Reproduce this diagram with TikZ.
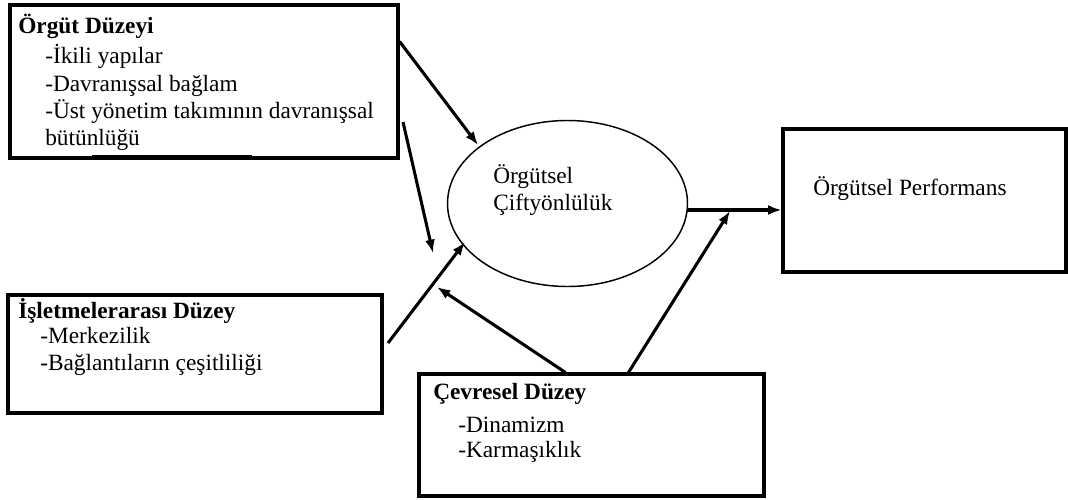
\documentclass[tikz,border=0pt]{standalone}
\usepackage{fontspec}
\setmainfont{Liberation Serif}
\usetikzlibrary{arrows.meta,calc,shapes.geometric}
\begin{document}
\begin{tikzpicture}[x=0.75pt,y=-0.75pt,
  box/.style={draw, line width=2.3pt, inner sep=0pt, rectangle},
  txt/.style={anchor=base west, inner sep=0pt, font=\fontsize{17.5}{20}\selectfont},
  head/.style={anchor=base west, inner sep=0pt, font=\fontsize{17.5}{20}\selectfont\bfseries},
  link/.style={line width=2.3pt, -{Latex[length=10pt,width=7.5pt]}}]
\useasboundingbox (0,0) rectangle (1068,500);

% frames
\node[box, minimum width=291pt, minimum height=114.75pt] (b1) at (204,81.5) {};
\node[box, minimum width=212.25pt, minimum height=107.25pt] (perf) at (924.5,200.5) {};
\node[box, minimum width=280.5pt, minimum height=88.5pt] (b2) at (195,354) {};
\node[box, minimum width=258.75pt, minimum height=91.5pt] (b3) at (591.5,435) {};
\node[draw, ellipse, line width=1.1pt, inner sep=0pt, minimum width=180pt, minimum height=124.5pt] (e) at (567.5,203.5) {};

% heavy stroke on the lower edge of the first frame
\draw[line width=3.75pt] (92,157.5) -- (252,157.5);

% texts of the first frame
\node[head] (t1h) at (18,33) {Örgüt Düzeyi};
\node[txt] (t1a) at (45,63) {-İkili yapılar};
\node[txt] (t1b) at (45,91) {-Davranışsal bağlam};
\node[txt] (t1c) at (45,118) {-Üst yönetim takımının davranışsal};
\node[txt] (t1d) at (45,145) {bütünlüğü};

% texts of the second frame
\node[head] (t2h) at (18,318) {İşletmelerarası Düzey};
\node[txt] (t2a) at (40,343) {-Merkezilik};
\node[txt] (t2b) at (40,370) {-Bağlantıların çeşitliliği};

% texts of the third frame
\node[head] (t3h) at (433,399) {Çevresel Düzey};
\node[txt] (t3a) at (458,432) {-Dinamizm};
\node[txt] (t3b) at (458,457) {-Karmaşıklık};

% ellipse and outcome texts
\node[txt] (te1) at (493,183) {Örgütsel};
\node[txt] (te2) at (493,210) {Çiftyönlülük};
\node[txt] (tp) at (813,195) {Örgütsel Performans};

% free ends of the connectors
\coordinate (a1s) at ($(b1.north east)+(0,38)$);
\coordinate (a1e) at (478,145);
\coordinate (a2s) at (403,122);
\coordinate (a2e) at (433,253);
\coordinate (a3s) at (388,343);
\coordinate (a3e) at (465,242);
\coordinate (a4s) at ($(b3.north west)+(148,0)$);
\coordinate (a4e) at (437,287);
\coordinate (a5s) at ($(b3.north west)+(211,0)$);
\coordinate (a5e) at (730,211);
\coordinate (a6s) at (687,210);

% connectors
\draw[link] (a1s) -- (a1e);
\draw[link] (a2s) -- (a2e);
\draw[link] (a3s) -- (a3e);
\draw[link] (a4s) -- (a4e);
\draw[link] (a5s) -- (a5e);
\draw[link] (a6s) -- (a6s -| perf.west);
\end{tikzpicture}
\end{document}
